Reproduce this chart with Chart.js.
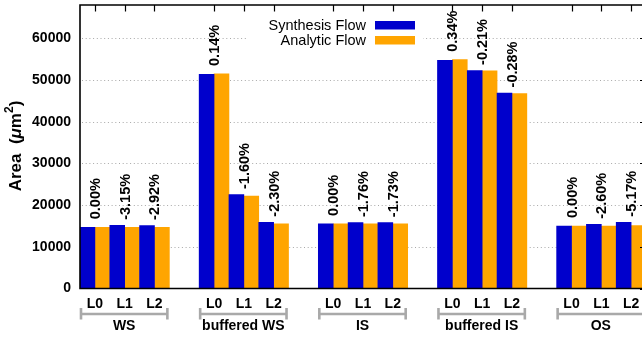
<!DOCTYPE html>
<html>
<head>
<meta charset="utf-8">
<script src="https://cdn.jsdelivr.net/npm/chart.js@4.4.1/dist/chart.umd.min.js"></script>
<style>
  html, body { margin: 0; padding: 0; overflow: hidden; background: #fff; width: 642px; height: 337px; }
  #wrap { position: relative; width: 720px; height: 337px; }
</style>
</head>
<body>
<div id="wrap"><canvas id="c" width="720" height="337"></canvas></div>
<script>
// Circuit families and levels on the x axis
const groups = ['WS', 'buffered WS', 'IS', 'buffered IS', 'OS'];
const levels = ['L0', 'L1', 'L2'];

// Area (um^2) per family/level, in the order of groups x levels
const synthesisFlow = [14700, 15150, 15120, 51400, 22550, 15900, 15500, 15800, 15790, 54700, 52300, 46900, 15000, 15400, 15900];
const analyticFlow  = [14700, 14673, 14679, 51472, 22189, 15534, 15500, 15522, 15517, 54886, 52190, 46769, 15000, 15000, 15078];

// Relative difference of the analytic flow against the synthesis flow
const diffLabels = ['0.00%', '-3.15%', '-2.92%', '0.14%', '-1.60%', '-2.30%', '0.00%', '-1.76%', '-1.73%', '0.34%', '-0.21%', '-0.28%', '0.00%', '-2.60%', '-5.17%'];

// Y axis
const yTicks = [0, 10000, 20000, 30000, 40000, 50000, 60000];
const yMax = 68000;

const seriesNames = ['Synthesis Flow', 'Analytic Flow'];
const seriesColors = ['#0000cc', '#ffa500'];

const FONT = '"Liberation Sans", Arial, Helvetica, sans-serif';

// Lay the groups out on a category axis with one empty slot between groups
const slotLabels = [];
const slotSynth = [];
const slotAnalytic = [];
const slotToData = [];
const groupSlots = [];
groups.forEach((g, gi) => {
  const first = slotLabels.length;
  levels.forEach((lv, li) => {
    const di = gi * levels.length + li;
    slotLabels.push(lv);
    slotSynth.push(synthesisFlow[di]);
    slotAnalytic.push(analyticFlow[di]);
    slotToData.push(di);
  });
  groupSlots.push([first, slotLabels.length - 1]);
  if (gi < groups.length - 1) {
    slotLabels.push('');
    slotSynth.push(null);
    slotAnalytic.push(null);
    slotToData.push(-1);
  }
});

const decor = {
  id: 'decor',
  beforeDatasetsDraw(chart) {
    const { ctx, chartArea: ca, scales: { y } } = chart;
    ctx.save();
    // dotted horizontal grid
    ctx.strokeStyle = '#a8a8a8';
    ctx.lineWidth = 1;
    ctx.setLineDash([1, 2.7]);
    yTicks.forEach(v => {
      if (v === 0) return;
      const py = Math.round(y.getPixelForValue(v)) + 0.5;
      ctx.beginPath();
      ctx.moveTo(ca.left + 2, py);
      ctx.lineTo(ca.right, py);
      ctx.stroke();
    });
    ctx.setLineDash([]);

    // legend box (opaque)
    ctx.fillStyle = '#fff';
    ctx.fillRect(248, 14, 175, 36);
    ctx.font = '14.5px ' + FONT;
    ctx.textAlign = 'right';
    ctx.textBaseline = 'middle';
    const rows = [25.5, 40.5];
    seriesNames.forEach((n, i) => {
      ctx.fillStyle = '#000';
      ctx.fillText(n, 366, rows[i]);
      ctx.fillStyle = seriesColors[i];
      ctx.fillRect(375, rows[i] - 4.5, 40, 8.5);
    });
    ctx.restore();
  },
  afterDatasetsDraw(chart) {
    const { ctx, chartArea: ca, scales: { x, y } } = chart;
    ctx.save();

    // value labels above each pair
    ctx.fillStyle = '#000';
    ctx.font = 'bold 14.5px ' + FONT;
    ctx.textAlign = 'center';
    ctx.textBaseline = 'middle';
    slotToData.forEach((di, si) => {
      if (di < 0) return;
      const px = x.getPixelForValue(si);
      const top = y.getPixelForValue(Math.max(synthesisFlow[di], analyticFlow[di]));
      ctx.save();
      ctx.translate(px, top - 28.5);
      ctx.rotate(-Math.PI / 2);
      ctx.fillText(diffLabels[di], 0, 1);
      ctx.restore();
    });

    // frame
    ctx.strokeStyle = '#000';
    ctx.lineWidth = 1.6;
    ctx.beginPath();
    ctx.moveTo(ca.right + 5, ca.top);
    ctx.lineTo(ca.left, ca.top);
    ctx.lineTo(ca.left, ca.bottom);
    ctx.lineTo(ca.right + 5, ca.bottom);
    ctx.stroke();

    // top ticks at pair centres, right ticks at grid values
    ctx.lineWidth = 1.2;
    ctx.beginPath();
    slotToData.forEach((di, si) => {
      if (di < 0) return;
      const px = Math.round(x.getPixelForValue(si)) + 0.5;
      ctx.moveTo(px, ca.top);
      ctx.lineTo(px, ca.top + 6.5);
    });
    yTicks.forEach(v => {
      const py = Math.round(y.getPixelForValue(v)) + 0.5;
      ctx.moveTo(ca.right - 6, py);
      ctx.lineTo(ca.right, py);
    });
    ctx.stroke();

    // group brackets and names
    const slotW = x.getPixelForValue(1) - x.getPixelForValue(0);
    ctx.strokeStyle = '#a9a9a9';
    ctx.lineWidth = 2.6;
    ctx.font = 'bold 14px ' + FONT;
    ctx.fillStyle = '#000';
    groupSlots.forEach(([a, b], gi) => {
      const l = x.getPixelForValue(a) - slotW / 2 + 1;
      const r = x.getPixelForValue(b) + slotW / 2 - 2;
      ctx.beginPath();
      ctx.moveTo(l, 314); ctx.lineTo(r, 314);
      ctx.moveTo(l, 308); ctx.lineTo(l, 319.5);
      ctx.moveTo(r, 308); ctx.lineTo(r, 319.5);
      ctx.stroke();
      ctx.fillText(groups[gi], (l + r) / 2, 326.5);
    });

    // y axis title
    ctx.translate(16, 146);
    ctx.rotate(-Math.PI / 2);
    ctx.textAlign = 'left';
    ctx.textBaseline = 'middle';
    const parts = [
      { t: 'Area  (', f: 'bold 17px ' + FONT, dy: 0 },
      { t: '\u03bc', f: 'italic bold 17px ' + FONT, dy: 0 },
      { t: 'm', f: 'bold 17px ' + FONT, dy: 0 },
      { t: '2', f: 'bold 12px ' + FONT, dy: -6 },
      { t: ')', f: 'bold 17px ' + FONT, dy: 0 }
    ];
    let total = 0;
    parts.forEach(p => { ctx.font = p.f; p.w = ctx.measureText(p.t).width; total += p.w; });
    let cx = -total / 2;
    parts.forEach(p => { ctx.font = p.f; ctx.fillText(p.t, cx, p.dy); cx += p.w; });
    ctx.restore();
  }
};

new Chart(document.getElementById('c'), {
  type: 'bar',
  data: {
    labels: slotLabels,
    datasets: [
      { label: seriesNames[0], data: slotSynth, backgroundColor: seriesColors[0], borderWidth: 0 },
      { label: seriesNames[1], data: slotAnalytic, backgroundColor: seriesColors[1], borderWidth: 0 }
    ]
  },
  options: {
    responsive: false,
    devicePixelRatio: 1,
    animation: false,
    datasets: { bar: { barPercentage: 1, categoryPercentage: 1 } },
    layout: { padding: { left: 0, top: 5, right: 74, bottom: 0 } },
    plugins: { legend: { display: false }, tooltip: { enabled: false } },
    scales: {
      x: {
        type: 'category',
        offset: true,
        grid: { display: false, drawTicks: false },
        border: { display: false },
        ticks: { color: '#000', font: { family: FONT, size: 14, weight: 'bold' }, padding: 7, maxRotation: 0, autoSkip: false },
        afterFit(s) { s.height = 48.5; s.paddingLeft = 0; s.paddingRight = 0; }
      },
      y: {
        min: 0,
        max: yMax,
        grid: { display: false, drawTicks: false },
        border: { display: false },
        ticks: {
          color: '#000',
          font: { family: FONT, size: 14, weight: 'bold' },
          padding: 9,
          callback: v => String(v)
        },
        afterBuildTicks(s) { s.ticks = yTicks.map(v => ({ value: v })); },
        afterFit(s) { s.width = 80; s.paddingTop = 0; s.paddingBottom = 0; }
      }
    }
  },
  plugins: [decor]
});
</script>
</body>
</html>
